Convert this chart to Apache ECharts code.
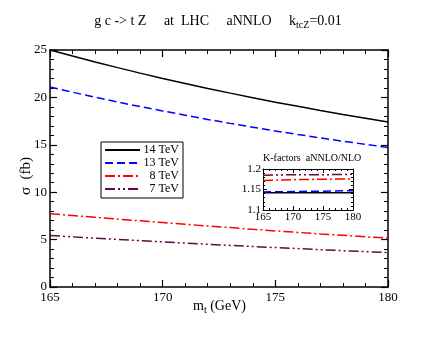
<!DOCTYPE html>
<html><head><meta charset="utf-8">
<script src="https://cdn.jsdelivr.net/npm/echarts@6/dist/echarts.min.js"></script>
<style>html,body{margin:0;padding:0;background:#fff}#c{width:436px;height:337px}</style>
</head><body><div id="c"></div>
<script>
const mt = [165,166,167,168,169,170,171,172,173,174,175,176,177,178,179,180];
const s14 = [25.0,24.36,23.74,23.14,22.56,22.0,21.47,20.95,20.45,19.97,19.5,19.06,18.62,18.2,17.8,17.4];
const s13 = [21.1,20.55,20.02,19.51,19.03,18.57,18.12,17.68,17.26,16.86,16.46,16.09,15.73,15.38,15.05,14.72];
const s8  = [7.73,7.54,7.35,7.16,6.98,6.80,6.62,6.44,6.27,6.08,5.92,5.76,5.60,5.45,5.30,5.15];
const s7  = [5.43,5.29,5.15,5.02,4.89,4.76,4.64,4.51,4.39,4.27,4.16,4.05,3.94,3.83,3.73,3.63];
const kmt = [165,170,175,180];
const k14 = [1.142,1.142,1.142,1.142];
const k13 = [1.144,1.145,1.146,1.147];
const k8  = [1.172,1.174,1.175,1.176];
const k7  = [1.185,1.186,1.186,1.187];
const names = ['14 TeV','13 TeV','8 TeV','7 TeV'];
const colors = ['#000000','#0000ff','#ff0000','#670748'];
const dashes = ['solid',[8,4],[10,3,2,3],[10,3,2,3,2,3]];

const F = 'Liberation Serif';
const pair = (xs, ys) => xs.map((x,i)=>[x, ys[i]]);
function axisCommon(extra){
  return Object.assign({
    axisLine:{show:true,onZero:false,lineStyle:{color:'#000',width:1.5}},
    axisTick:{show:true,inside:true,length:7,lineStyle:{color:'#000',width:1.2}},
    minorTick:{show:true,splitNumber:5,length:4,lineStyle:{color:'#000',width:1}},
    splitLine:{show:false}
  }, extra);
}
const small = {
  axisLine:{show:true,onZero:false,lineStyle:{color:'#000',width:1}},
  axisTick:{show:true,inside:true,length:4,lineStyle:{color:'#000',width:1}},
  minorTick:{show:true,splitNumber:5,length:2,lineStyle:{color:'#000',width:1}}
};
const mainSeries = [s14,s13,s8,s7].map((d,i)=>({
  name:names[i], type:'line', xAxisIndex:0, yAxisIndex:0, symbol:'none',
  data:pair(mt,d), lineStyle:{color:colors[i],width:1.5,type:dashes[i]}, itemStyle:{color:colors[i]}
}));
const insetSeries = [k14,k13,k8,k7].map((d,i)=>({
  name:'K'+i, type:'line', xAxisIndex:2, yAxisIndex:2, symbol:'none',
  data:pair(kmt,d), lineStyle:{color:colors[i],width:1.5,type:dashes[i]}
}));

const chart = echarts.init(document.getElementById('c'));
chart.setOption({
  animation:false,
  backgroundColor:'#fff',
  textStyle:{fontFamily:F},
  grid:[
    {left:50,top:50,right:48,bottom:50},
    {left:263,top:169,width:90,height:41}
  ],
  xAxis:[
    axisCommon({type:'value',gridIndex:0,min:165,max:180,interval:5,position:'bottom',
      axisLabel:{color:'#000',fontFamily:F,fontSize:13,margin:4}}),
    axisCommon({type:'value',gridIndex:0,min:165,max:180,interval:5,position:'top',axisLabel:{show:false}}),
    axisCommon(Object.assign({type:'value',gridIndex:1,min:165,max:180,interval:5,position:'bottom',
      axisLabel:{color:'#000',fontFamily:F,fontSize:11,margin:2}}, small)),
    axisCommon(Object.assign({type:'value',gridIndex:1,min:165,max:180,interval:5,position:'top',axisLabel:{show:false}}, small))
  ],
  yAxis:[
    axisCommon({type:'value',gridIndex:0,min:0,max:25,interval:5,position:'left',
      axisLabel:{color:'#000',fontFamily:F,fontSize:13,margin:3}}),
    axisCommon({type:'value',gridIndex:0,min:0,max:25,interval:5,position:'right',axisLabel:{show:false}}),
    axisCommon(Object.assign({type:'value',gridIndex:1,min:1.1,max:1.2,interval:0.05,position:'left',
      axisLabel:{color:'#000',fontFamily:F,fontSize:11,margin:2,formatter:v=>String(+v.toFixed(2))}}, small)),
    axisCommon(Object.assign({type:'value',gridIndex:1,min:1.1,max:1.2,interval:0.05,position:'right',axisLabel:{show:false}}, small))
  ],
  legend:{
    data:names, orient:'vertical', left:101, top:142,
    padding:[2,4,3,3], itemGap:1, itemWidth:35, itemHeight:10,
    borderColor:'#000', borderWidth:1, borderRadius:0,
    selectedMode:false,
    itemStyle:{opacity:0},
    formatter:n=>'{a|'+n+'}',
    textStyle:{fontFamily:F,fontSize:12,color:'#000',
      rich:{a:{width:34,align:'right',fontFamily:F,fontSize:12,color:'#000'}}}
  },
  graphic:[
    {type:'text',left:'center',top:14,style:{
      text:'g c -> t Z     at  LHC     aNNLO     k{s|tcZ}=0.01',
      fontFamily:F,fontSize:14,fill:'#000',
      rich:{s:{fontSize:10,fontFamily:F,fill:'#000',padding:[8,0,0,0]}}}},
    {type:'text',left:193,top:299,style:{
      text:'m{s|t} (GeV)',fontFamily:F,fontSize:14,fill:'#000',
      rich:{s:{fontSize:10,fontFamily:F,fill:'#000',padding:[9,0,0,0]}}}},
    {type:'text',x:26,y:176,rotation:Math.PI/2,style:{
      text:'σ  (fb)',fontFamily:F,fontSize:15,fill:'#000',align:'center',verticalAlign:'middle'}},
    {type:'text',left:263,top:153,style:{
      text:'K-factors  aNNLO/NLO',fontFamily:F,fontSize:10,fill:'#000'}}
  ],
  series: mainSeries.concat(insetSeries)
});
</script></body></html>
